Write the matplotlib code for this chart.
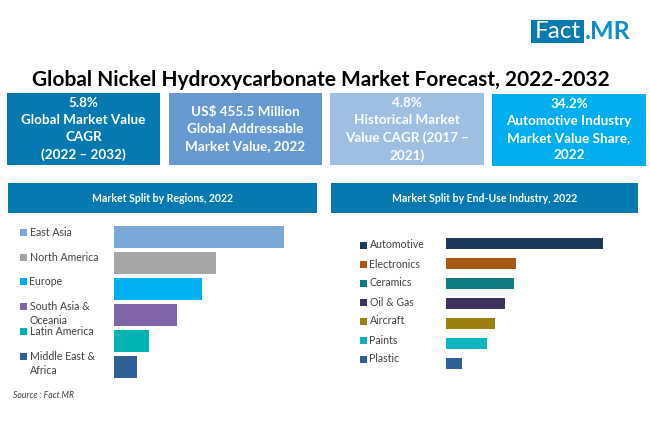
import matplotlib
matplotlib.use('Agg')
import matplotlib.pyplot as plt
from matplotlib.patches import Rectangle

plt.rcParams['font.family'] = ['Lato', 'DejaVu Sans']

W, H = 650, 443

title = 'Global Nickel Hydroxycarbonate Market Forecast, 2022-2032'

box_texts = ['5.8%\nGlobal Market Value\nCAGR\n(2022 – 2032)',
             'US$ 455.5 Million\nGlobal Addressable\nMarket Value, 2022',
             '4.8%\nHistorical Market\nValue CAGR (2017 –\n2021)',
             '34.2%\nAutomotive Industry\nMarket Value Share,\n2022']
box_colors = ['#0779b1', '#6699cf', '#9dbfe1', '#00aeef']

regions = ['East Asia', 'North America', 'Europe', 'South Asia &\nOceania',
           'Latin America', 'Middle East &\nAfrica']
region_values = [35.2, 21.2, 18.2, 13.2, 7.4, 4.8]
region_colors = ['#7ba7d7', '#a5a5a5', '#00b0f0', '#8064a9', '#00b4b4', '#2f5f97']

industries = ['Automotive', 'Electronics', 'Ceramics', 'Oil & Gas', 'Aircraft',
              'Paints', 'Plastic']
industry_values = [34.2, 15.3, 14.9, 12.9, 10.7, 9.0, 3.4]
industry_colors = ['#1b3a5a', '#a65814', '#0e7c80', '#3f3160', '#9c7f0e', '#0bb5be', '#2f5f97']


def px_rect(x0, y0, x1, y1):
    # pixel box (origin top left) to figure fractions
    return [x0 / W, 1 - y1 / H, (x1 - x0) / W, (y1 - y0) / H]


def add_box(fig, x0, y0, x1, y1, color, txt, size, weight='bold', lsp=1.5, txt_color='white'):
    fig.add_artist(Rectangle((x0 / W, 1 - y1 / H), (x1 - x0) / W, (y1 - y0) / H,
                             transform=fig.transFigure, color=color, lw=0))
    fig.text((x0 + x1) / 2 / W, 1 - (y0 + y1) / 2 / H, txt, color=txt_color, fontsize=size,
             fontweight=weight, ha='center', va='center', linespacing=lsp)


def bar_panel(fig, rect, vals, cols, height):
    ax = fig.add_axes(rect)
    ax.barh(range(len(vals)), vals, height=height, color=cols)
    ax.set_xlim(0, max(vals))
    ax.set_ylim(len(vals) - 0.5, -0.5)
    ax.axis('off')
    return ax


def add_key(fig, labels, cols, key_x, text_x, y_top, pitch, size):
    for i, (lab, col) in enumerate(zip(labels, cols)):
        y = y_top + i * pitch
        fig.add_artist(Rectangle((key_x / W, 1 - (y + 3.5) / H), 7 / W, 7 / H,
                                 transform=fig.transFigure, color=col, lw=0))
        fig.text(text_x / W, 1 - y / H, lab.split('\n')[0], fontsize=size, color='#404040',
                 va='center', ha='left')
        if '\n' in lab:
            fig.text(text_x / W, 1 - (y + 14) / H, lab.split('\n')[1], fontsize=size,
                     color='#404040', va='center', ha='left')


fig = plt.figure(figsize=(W / 100, H / 100), dpi=100, facecolor='white')

# logo
add_box(fig, 531, 20, 584, 43, '#0779b1', 'Fact', 17.5, weight='normal')
fig.text(585 / W, 1 - 31.5 / H, '.MR', color='#0f8fc7', fontsize=18, fontweight='bold',
         ha='left', va='center')

fig.text(321 / W, 1 - 80 / H, title, fontsize=15.05, fontweight='bold', color='black',
         ha='center', va='center')

box_pos = [(7, 93, 160, 165), (168.5, 93.5, 322, 165), (330.5, 93.5, 484, 165), (492, 94, 646, 165.5)]
for pos, col, txt in zip(box_pos, box_colors, box_texts):
    add_box(fig, *pos, col, txt, 9.7)

add_box(fig, 8, 183, 317, 213, '#0779b1', 'Market Split by Regions, 2022', 7.6)
add_box(fig, 331, 183, 638, 213, '#0779b1', 'Market Split by End-Use Industry, 2022', 7.6)

bar_panel(fig, px_rect(113.5, 224, 284, 380), region_values, region_colors, 0.85)
bar_panel(fig, px_rect(446, 233, 603, 373), industry_values, industry_colors, 0.55)

add_key(fig, regions, region_colors, 20, 29.5, 232.5, 24.7, 7.6)
add_key(fig, industries, industry_colors, 360, 369.5, 245, 19, 7.6)

fig.text(13 / W, 1 - 396 / H, 'Source : Fact.MR', fontsize=6.2, fontstyle='italic', color='#404040',
         ha='left', va='center')

fig.savefig('out.png', dpi=100)
